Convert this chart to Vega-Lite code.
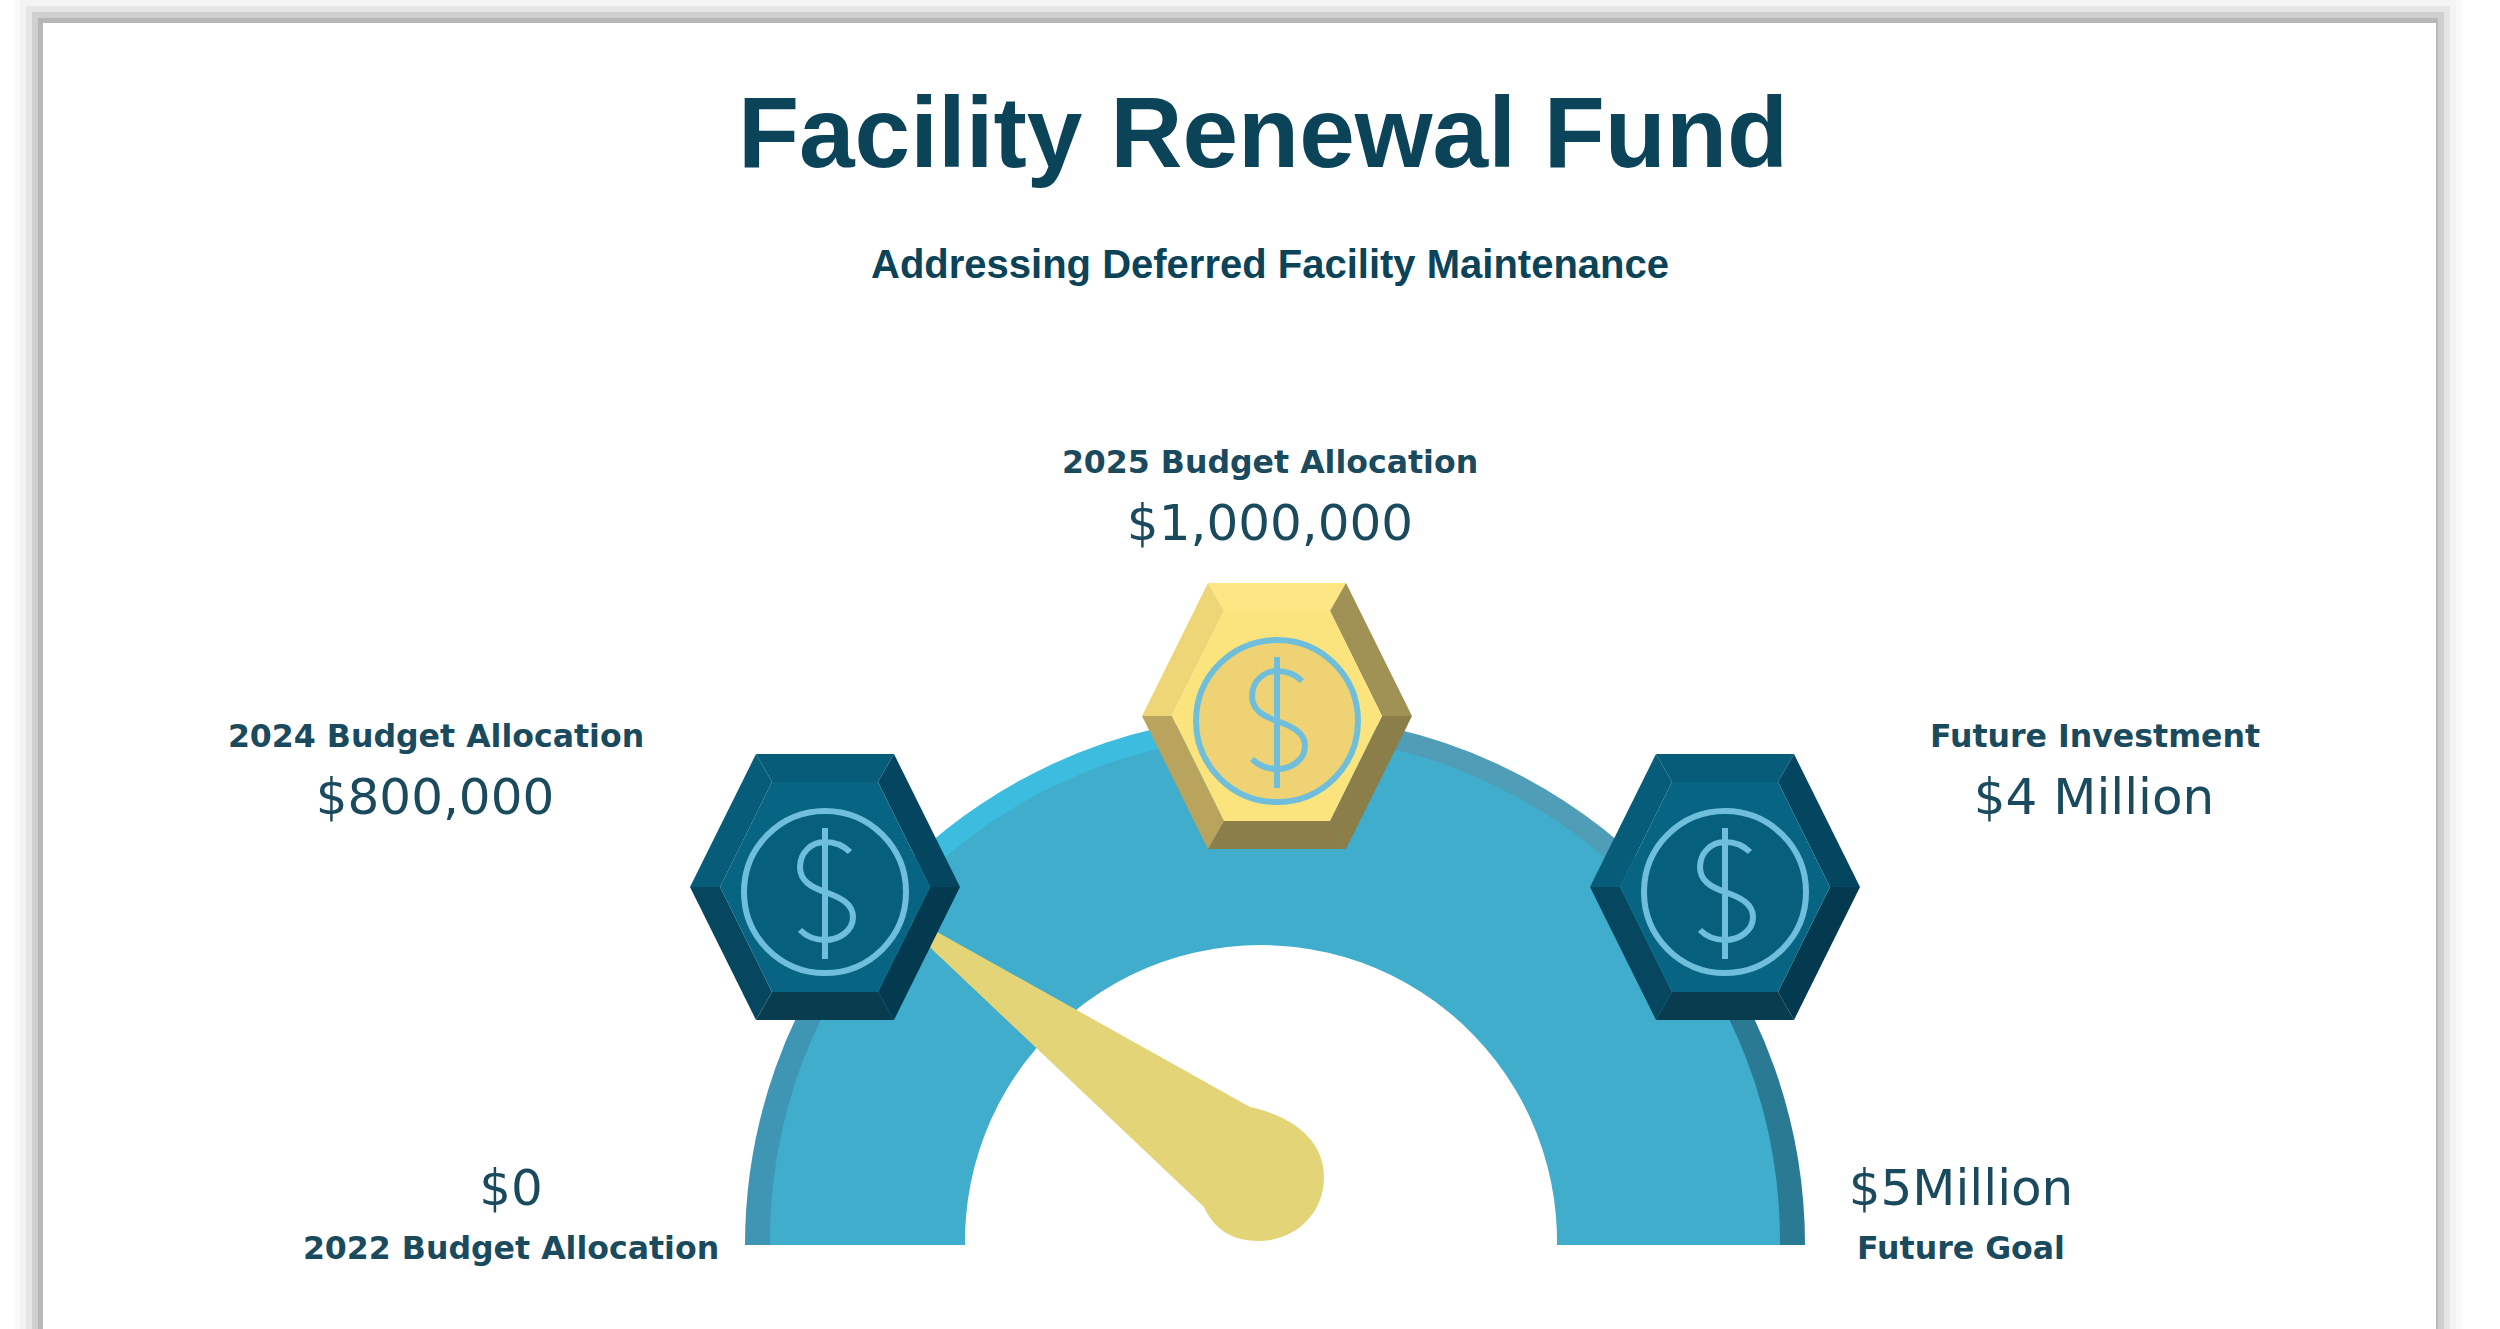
{
"$schema":"https://vega.github.io/schema/vega-lite/v6.json",
"width":2500,"height":1329,"padding":0,
"autosize":{"type":"fit","contains":"padding"},
"background":"#ffffff",
"config":{"view":{"stroke":null}},
"datasets":{
"card":[
{"ring":"r6","gx":10,"gx2":2464,"gy":0,"gy2":1329},
{"ring":"r5","gx":15,"gx2":2461,"gy":0,"gy2":1329},
{"ring":"r4","gx":20,"gx2":2456,"gy":0,"gy2":1329},
{"ring":"r3","gx":26,"gx2":2450,"gy":6,"gy2":1329},
{"ring":"r2","gx":32,"gx2":2444,"gy":12,"gy2":1329},
{"ring":"r1","gx":38,"gx2":2438,"gy":18,"gy2":1329},
{"ring":"card","gx":43,"gx2":2436,"gy":23,"gy2":1329}
],
"gauge":[
{"part":"rim lower left","gx":1275,"gy":1245,"a0":-90,"a1":-51,"r1":530},
{"part":"rim upper left","gx":1275,"gy":1245,"a0":-51,"a1":0,"r1":530},
{"part":"rim upper right","gx":1275,"gy":1245,"a0":0,"a1":51,"r1":530},
{"part":"rim lower right","gx":1275,"gy":1245,"a0":51,"a1":90,"r1":530},
{"part":"band","gx":1275,"gy":1240,"a0":-92,"a1":92,"r1":505},
{"part":"hole","gx":1261,"gy":1241,"a0":-105,"a1":105,"r1":296}
],
"baseline":[
{"gx":700,"gx2":1850,"gy":1245,"gy2":1329},
{"gx":1100,"gx2":1420,"gy":1238,"gy2":1246}
],
"needle":[{"reading":800000,"gx":1258,"gy":1177}],
"milestones":[
{"label":"2024 Budget Allocation","stage":"past","gx":825,"gy":887},
{"label":"2025 Budget Allocation","stage":"current","gx":1277,"gy":716},
{"label":"Future Investment","stage":"future","gx":1725,"gy":887}
],
"texts":[
{"text":"Facility Renewal Fund","kind":"title","gx":1263,"gy":167},
{"text":"Addressing Deferred Facility Maintenance","kind":"subtitle","gx":1270,"gy":278},
{"text":"2025 Budget Allocation","kind":"name","gx":1270,"gy":473},
{"text":"2024 Budget Allocation","kind":"name","gx":436,"gy":747},
{"text":"Future Investment","kind":"name","gx":2095,"gy":747},
{"text":"2022 Budget Allocation","kind":"name","gx":511,"gy":1259},
{"text":"Future Goal","kind":"name","gx":1961,"gy":1259},
{"text":"$1,000,000","kind":"amount","gx":1270,"gy":540},
{"text":"$800,000","kind":"amount","gx":435,"gy":814},
{"text":"$4 Million","kind":"amount","gx":2094,"gy":814},
{"text":"$0","kind":"amount","gx":511,"gy":1205},
{"text":"$5Million","kind":"amount","gx":1961,"gy":1205}
]
},
"encoding":{
"x":{"field":"gx","type":"quantitative","axis":null,"scale":{"domain":[0,2500],"nice":false,"zero":false}},
"y":{"field":"gy","type":"quantitative","axis":null,"scale":{"domain":[1329,0],"nice":false,"zero":false}}
},
"layer":[
{"data":{"name":"card"},"mark":{"type":"rect"},
"encoding":{"x2":{"field":"gx2"},"y2":{"field":"gy2"},
"color":{"field":"ring","type":"nominal","legend":null,"sort":null,"scale":{"domain":["r6","r5","r4","r3","r2","r1","card"],"range":["#fefefe","#fafafa","#f4f4f4","#e6e6e6","#cfcfcf","#b7b7b7","#ffffff"]}}}},
{"data":{"name":"gauge"},"mark":{"type":"arc"},
"encoding":{
"theta":{"field":"a0","type":"quantitative","stack":null,"scale":{"domain":[-180,180],"range":[-3.14159265,3.14159265]}},
"theta2":{"field":"a1"},
"radius":{"field":"r1","type":"quantitative","scale":{"type":"linear","domain":[0,600],"range":[0,600],"zero":true}},
"fill":{"field":"part","type":"nominal","legend":null,"scale":{"domain":["rim lower left","rim upper left","rim upper right","rim lower right","band","hole"],"range":["#3e96b4","#3cbde0","#4f9db6","#2a7a93","#3fadcb","#ffffff"]}}}},
{"data":{"name":"baseline"},"mark":{"type":"rect","color":"#ffffff"},
"encoding":{"x2":{"field":"gx2"},"y2":{"field":"gy2"}}},
{"data":{"name":"needle"},"mark":{"type":"point","filled":true,"size":4,"opacity":1,"strokeWidth":0,"fill":"#e4d478",
"shape":"M-378,-277 L-8,-70 C30,-62 66,-40 66,0 C66,38 36,64 0,64 C-28,64 -45,50 -54,30 Z"}},
{"data":{"name":"milestones"},"layer":[
{"mark":{"type":"point","filled":true,"size":4,"opacity":1,"strokeWidth":0,"shape":"M-69,-133 L69,-133 L53,-105 L-53,-105 Z"},
"encoding":{"fill":{"condition":{"test":"datum.stage==='current'","value":"#fde684"},"value":"#075d79"}}},
{"mark":{"type":"point","filled":true,"size":4,"opacity":1,"strokeWidth":0,"shape":"M69,-133 L135,0 L105,0 L53,-105 Z"},
"encoding":{"fill":{"condition":{"test":"datum.stage==='current'","value":"#a09154"},"value":"#044560"}}},
{"mark":{"type":"point","filled":true,"size":4,"opacity":1,"strokeWidth":0,"shape":"M135,0 L69,133 L53,105 L105,0 Z"},
"encoding":{"fill":{"condition":{"test":"datum.stage==='current'","value":"#8c7e49"},"value":"#043a50"}}},
{"mark":{"type":"point","filled":true,"size":4,"opacity":1,"strokeWidth":0,"shape":"M69,133 L-69,133 L-53,105 L53,105 Z"},
"encoding":{"fill":{"condition":{"test":"datum.stage==='current'","value":"#8c7e49"},"value":"#0a3c50"}}},
{"mark":{"type":"point","filled":true,"size":4,"opacity":1,"strokeWidth":0,"shape":"M-69,133 L-135,0 L-105,0 L-53,105 Z"},
"encoding":{"fill":{"condition":{"test":"datum.stage==='current'","value":"#b8a45d"},"value":"#07465f"}}},
{"mark":{"type":"point","filled":true,"size":4,"opacity":1,"strokeWidth":0,"shape":"M-135,0 L-69,-133 L-53,-105 L-105,0 Z"},
"encoding":{"fill":{"condition":{"test":"datum.stage==='current'","value":"#eed677"},"value":"#075d79"}}},
{"mark":{"type":"point","filled":true,"size":4,"opacity":1,"strokeWidth":0,"shape":"M-53,-105 L53,-105 L105,0 L53,105 L-53,105 L-105,0 Z"},
"encoding":{"fill":{"condition":{"test":"datum.stage==='current'","value":"#fbe47e"},"value":"#076482"}}},
{"mark":{"type":"point","filled":true,"size":4,"opacity":1,"strokeWidth":6,"stroke":"#6fbfdc","shape":"M81,5 A81,81 0 1,1 -81,5 A81,81 0 1,1 81,5 Z"},
"encoding":{"fill":{"condition":{"test":"datum.stage==='current'","value":"#efd274"},"value":"#055f7d"}}},
{"mark":{"type":"point","filled":false,"size":4,"opacity":1,"strokeWidth":6,"stroke":"#6fbfdc","fill":"transparent","shape":"M25,-35 C18,-42 8,-45 0,-45 C-14,-45 -25,-34 -25,-20 C-25,-6 -14,0 0,5 C14,10 28,16 28,30 C28,44 14,53 0,53 C-10,53 -19,49 -25,43 M0,-59 L0,72"}}
]},
{"data":{"name":"texts"},"transform":[{"filter":"datum.kind==='title'"}],
"mark":{"type":"text","font":"Liberation Sans","fontWeight":"bold","fontSize":100,"align":"center","baseline":"alphabetic","color":"#0b4358"},
"encoding":{"text":{"field":"text"}}},
{"data":{"name":"texts"},"transform":[{"filter":"datum.kind==='subtitle'"}],
"mark":{"type":"text","font":"Liberation Sans","fontWeight":"bold","fontSize":40,"align":"center","baseline":"alphabetic","color":"#0b4358"},
"encoding":{"text":{"field":"text"}}},
{"data":{"name":"texts"},"transform":[{"filter":"datum.kind==='name'"}],
"mark":{"type":"text","font":"DejaVu Sans","fontWeight":"bold","fontSize":31.6,"align":"center","baseline":"alphabetic","color":"#1a4a5e"},
"encoding":{"text":{"field":"text"}}},
{"data":{"name":"texts"},"transform":[{"filter":"datum.kind==='amount'"}],
"mark":{"type":"text","font":"DejaVu Sans","fontWeight":"normal","fontSize":50,"align":"center","baseline":"alphabetic","color":"#1a4a5e"},
"encoding":{"text":{"field":"text"}}}
]
}
